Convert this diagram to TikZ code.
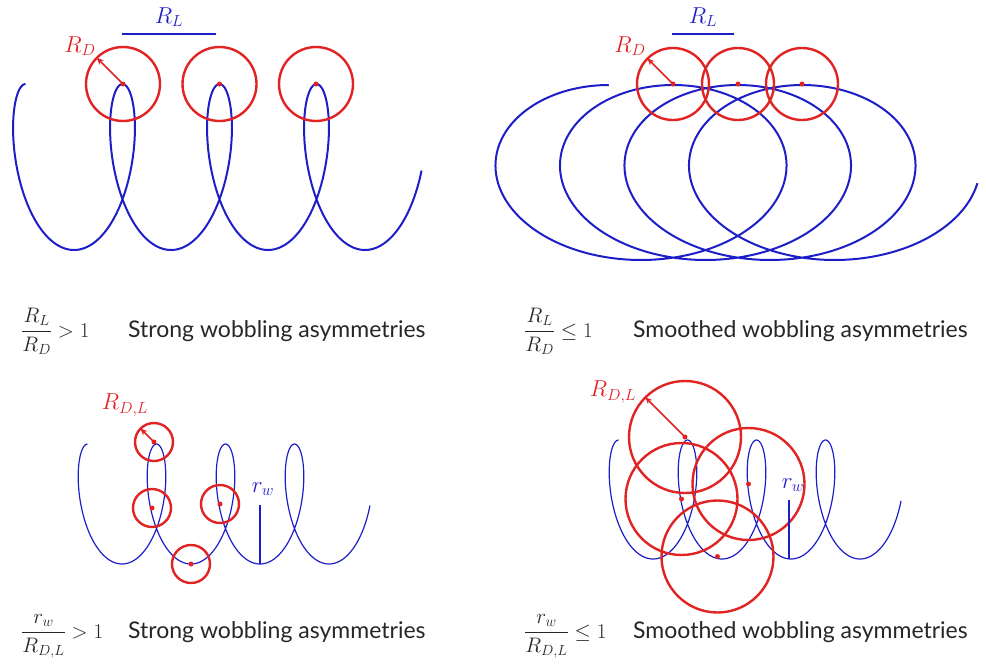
\RequirePackage{fix-cm}
\documentclass[tikz,border=0pt]{standalone}
\usepackage{amsmath}
\usepackage{fontspec}
\setsansfont{Lato}
\usetikzlibrary{arrows.meta}
\definecolor{wobblue}{RGB}{30,30,200}
\definecolor{wobred}{RGB}{225,35,35}

\begin{document}
\begin{tikzpicture}[x=1pt,y=-1pt,font=\sffamily,
  wob/.style={wobblue,line width=2pt},
  wobthin/.style={wobblue,line width=1.2pt},
  dcircle/.style={circle,draw=wobred,line width=2.4pt,inner sep=0pt},
  ctr/.style={circle,fill=wobred,inner sep=0pt,minimum size=5pt},
  radarrow/.style={wobred,line width=1.7pt,-{Stealth[length=7pt,width=6pt]},shorten >=1pt},
  bar/.style={wobblue,line width=2.4pt},
  lbl/.style={font=\fontsize{23}{27}\selectfont},
  caption/.style={anchor=base west,inner sep=0pt,text=black!85,font=\fontsize{23}{27}\sffamily},
  eqn/.style={anchor=base west,inner sep=0pt,text=black!85,font=\fontsize{21}{25}\selectfont}]
\useasboundingbox (0,0) rectangle (986,665);
\draw[wob] plot[domain=-3.1416:20.38,samples=400,smooth,variable=\t] ({74+97*\t/(2*pi)+33*sin(\t r)},{167+83*cos(\t r)});
\node[dcircle,minimum size=74pt] (tl1) at (123,84) {};
\node[dcircle,minimum size=74pt] (tl2) at (219.5,84) {};
\node[dcircle,minimum size=74pt] (tl3) at (316,84) {};
\node[ctr] at (tl1) {};
\node[ctr] at (tl2) {};
\node[ctr] at (tl3) {};
\draw[radarrow] (tl1.center) -- (tl1.135);
\node[lbl,wobred] (rdtl) at (80,46) {$R_D$};
\coordinate (rltlA) at (122,34);
\coordinate (rltlB) at (216,34);
\draw[bar] (rltlA) -- (rltlB);
\node[lbl,wobblue] (rltl) at (169,17) {$R_L$};
\node[eqn] (eqtl) at (21,337) {$\dfrac{R_L}{R_D} > 1$};
\node[caption] (txtl) at (128,337) {Strong wobbling asymmetries};

\draw[wob] plot[domain=-3.1416:20.3,samples=400,smooth,variable=\t] ({641+64.5*\t/(2*pi)+129*sin(\t r)},{172.5+87.5*cos(\t r)});
\node[dcircle,minimum size=72pt] (tr1) at (673,84) {};
\node[dcircle,minimum size=72pt] (tr2) at (738,84) {};
\node[dcircle,minimum size=72pt] (tr3) at (802,84) {};
\node[ctr] at (tr1) {};
\node[ctr] at (tr2) {};
\node[ctr] at (tr3) {};
\draw[radarrow] (tr1.center) -- (tr1.135);
\node[lbl,wobred] (rdtr) at (630,46) {$R_D$};
\coordinate (rltrA) at (672,34);
\coordinate (rltrB) at (734,34);
\draw[bar] (rltrA) -- (rltrB);
\node[lbl,wobblue] (rltr) at (703,17) {$R_L$};
\node[eqn] (eqtr) at (524,337) {$\dfrac{R_L}{R_D} \leq 1$};
\node[caption] (txtr) at (633,337) {Smoothed wobbling asymmetries};

\draw[wobthin] plot[domain=-3.1416:20.4,samples=400,smooth,variable=\t] ({122+69*\t/(2*pi)+24*sin(\t r)},{504+60*cos(\t r)});
\node[dcircle,minimum size=38pt] (bl1) at (154,442) {};
\node[dcircle,minimum size=38pt] (bl2) at (152,508) {};
\node[dcircle,minimum size=38pt] (bl3) at (220,504) {};
\node[dcircle,minimum size=38pt] (bl4) at (191,564) {};
\node[ctr] at (bl1) {};
\node[ctr] at (bl2) {};
\node[ctr] at (bl3) {};
\node[ctr] at (bl4) {};
\draw[radarrow] (bl1.center) -- (bl1.135);
\node[lbl,wobred] (rdlbl) at (125,405) {$R_{D,L}$};
\coordinate (rwblA) at (260,505);
\coordinate (rwblB) at (260,564);
\draw[bar] (rwblA) -- (rwblB);
\node[lbl,wobblue] (rwbl) at (263,489) {$r_w$};
\node[eqn] (eqbl) at (21,638) {$\dfrac{r_w}{R_{D,L}} > 1$};
\node[caption] (txbl) at (128,638) {Strong wobbling asymmetries};

\draw[wobthin] plot[domain=-3.1416:20.4,samples=400,smooth,variable=\t] ({653+69*\t/(2*pi)+24*sin(\t r)},{499.5+59.5*cos(\t r)});
\node[dcircle,minimum size=112pt] (br1) at (685,437) {};
\node[dcircle,minimum size=112pt] (br2) at (681.5,499) {};
\node[dcircle,minimum size=112pt] (br3) at (748.5,484) {};
\node[dcircle,minimum size=112pt] (br4) at (717.5,556.5) {};
\node[ctr] at (br1) {};
\node[ctr] at (br2) {};
\node[ctr] at (br3) {};
\node[ctr] at (br4) {};
\draw[radarrow] (br1.center) -- (br1.135);
\node[lbl,wobred] (rdlbr) at (613,392) {$R_{D,L}$};
\coordinate (rwbrA) at (789,500);
\coordinate (rwbrB) at (789,559);
\draw[bar] (rwbrA) -- (rwbrB);
\node[lbl,wobblue] (rwbr) at (793,485) {$r_w$};
\node[eqn] (eqbr) at (524,638) {$\dfrac{r_w}{R_{D,L}} \leq 1$};
\node[caption] (txbr) at (633,638) {Smoothed wobbling asymmetries};
\end{tikzpicture}
\end{document}
